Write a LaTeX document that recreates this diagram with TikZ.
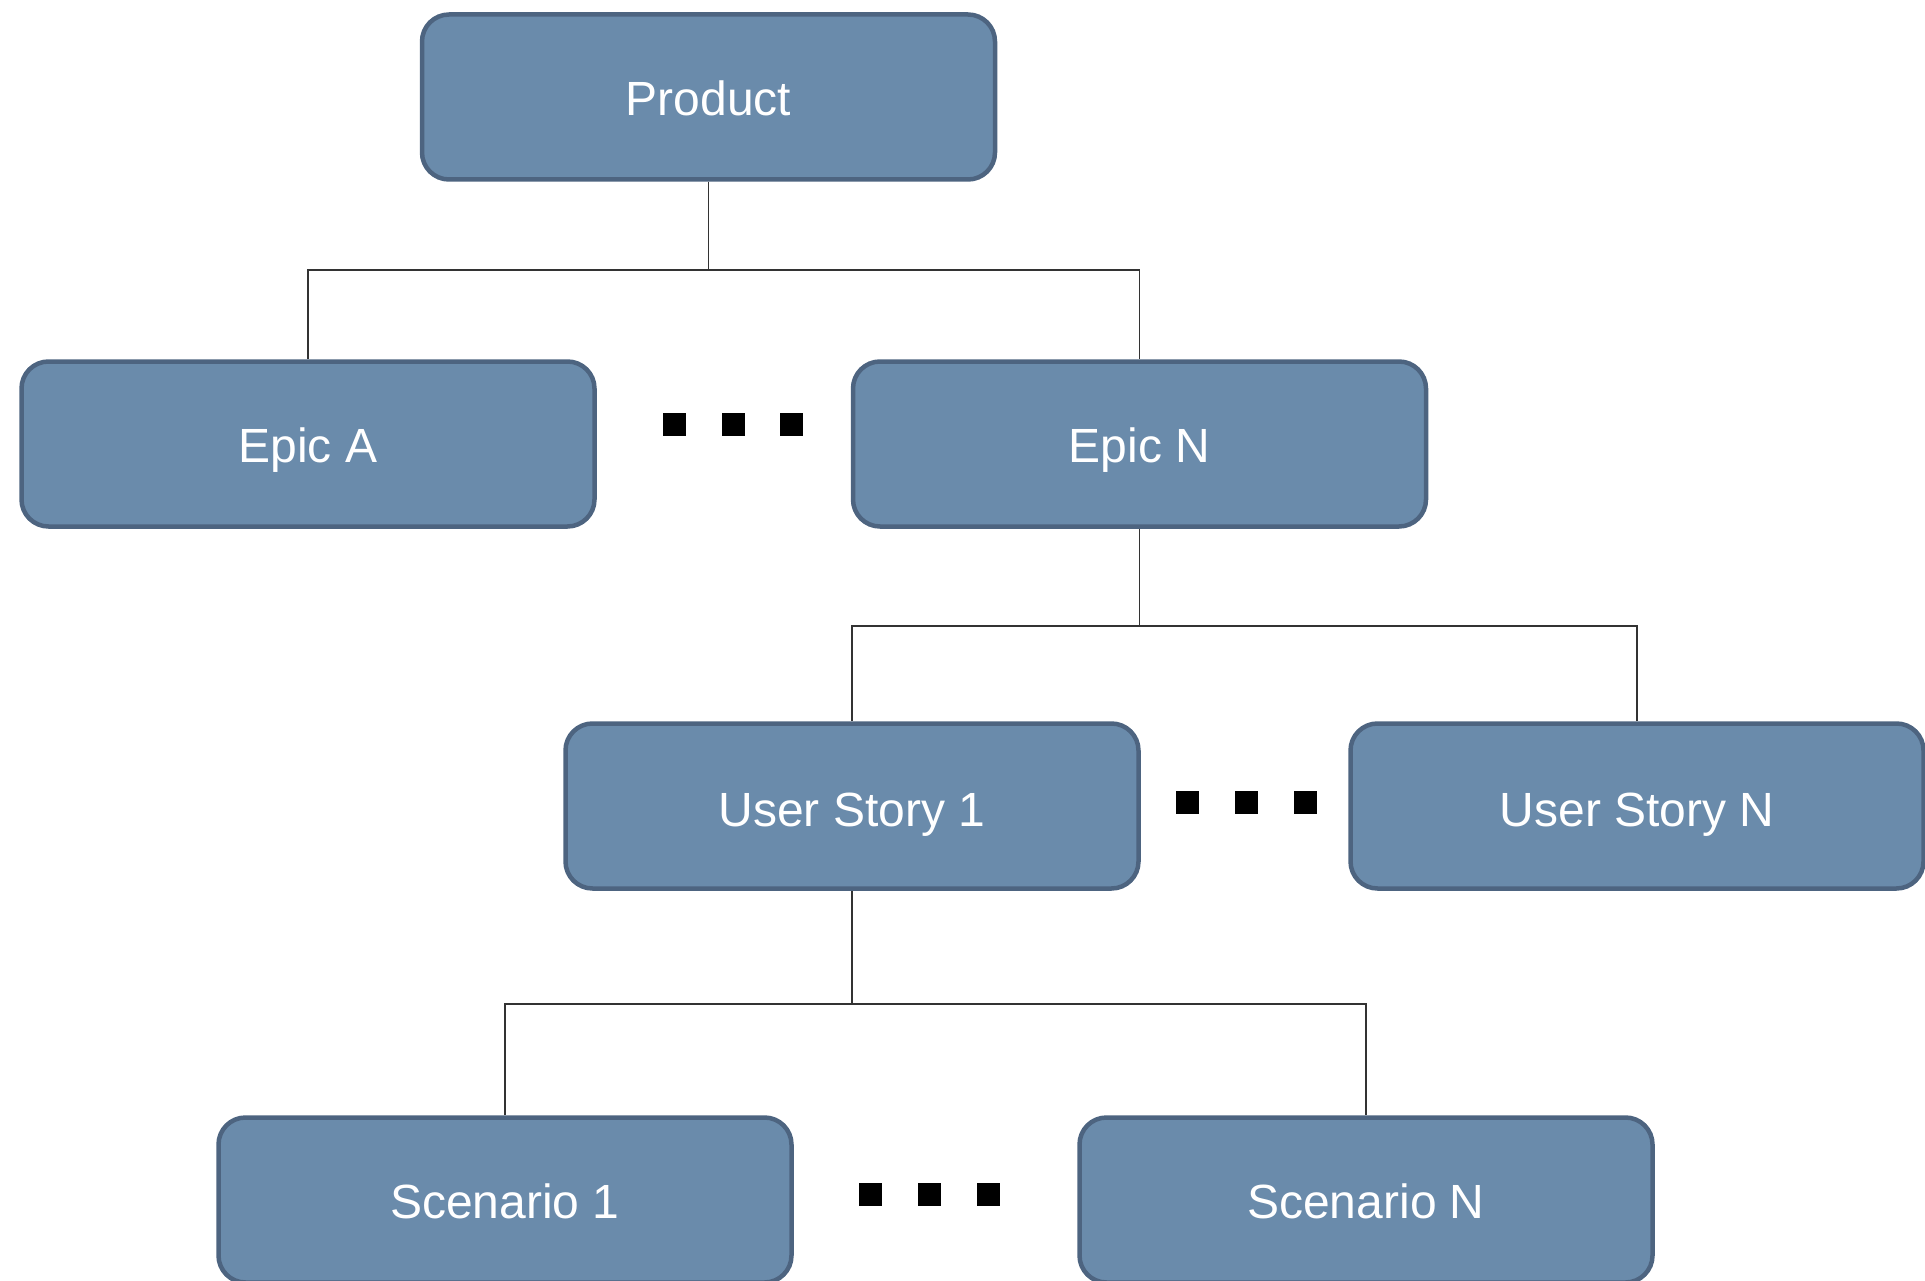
\documentclass[tikz,border=0pt]{standalone}
\usepackage{fontspec}
\setmainfont{Liberation Sans}
\definecolor{boxfill}{HTML}{6A8BAB}
\definecolor{boxline}{HTML}{4D6480}
\definecolor{conn}{HTML}{333333}
\newcommand{\lowered}[2]{\raisebox{-#1pt}{#2}}
\begin{document}
\begin{tikzpicture}[x=1pt,y=1pt,
  card/.style={draw=boxline, fill=boxfill, line width=4.5pt, rounded corners=27pt,
    minimum width=573pt, minimum height=165pt, inner sep=0pt,
    text height=34pt, text depth=0pt,
    text=white, font=\fontsize{48}{56}\selectfont},
  link/.style={draw=conn, line width=1.5pt},
  dotsq/.style={fill=black, draw=none, minimum size=23pt, inner sep=0pt}]
\useasboundingbox (0,0) rectangle (1925,-1281);
\node[card] (prod) at (708.5,-97) {\lowered{1.5}{Product}};
\node[card] (eA) at (308,-444) {\lowered{1.5}{Epic A}};
\node[card] (eN) at (1139.5,-444) {\lowered{1.5}{Epic N}};
\node[card] (us1) at (852,-806) {\lowered{3.5}{User Story 1}};
\node[card] (usN) at (1637,-806) {\lowered{3.5}{User Story N}};
\node[card] (sc1) at (505,-1200) {\lowered{1.5}{Scenario 1}};
\node[card] (scN) at (1366,-1200) {\lowered{1.5}{Scenario N}};
% connectors
\coordinate (j1) at (708.5,-270);
\coordinate (j2) at (1139.5,-626);
\coordinate (j3) at (852,-1004);
\draw[link] (prod.south) -- (j1) -| (eA.north);
\draw[link] (j1) -| (eN.north);
\draw[link] (eN.south) -- (j2) -| (us1.north);
\draw[link] (j2) -| (usN.north);
\draw[link] (us1.south) -- (j3) -| (sc1.north);
\draw[link] (j3) -| (scN.north);
% ellipsis squares
\node[dotsq] (d1) at (674,-424) {};
\node[dotsq] (d2) at (733,-424) {};
\node[dotsq] (d3) at (791,-424) {};
\node[dotsq] (d4) at (1187,-802) {};
\node[dotsq] (d5) at (1246,-802) {};
\node[dotsq] (d6) at (1305,-802) {};
\node[dotsq] (d7) at (870,-1194) {};
\node[dotsq] (d8) at (929,-1194) {};
\node[dotsq] (d9) at (988,-1194) {};
\end{tikzpicture}
\end{document}
